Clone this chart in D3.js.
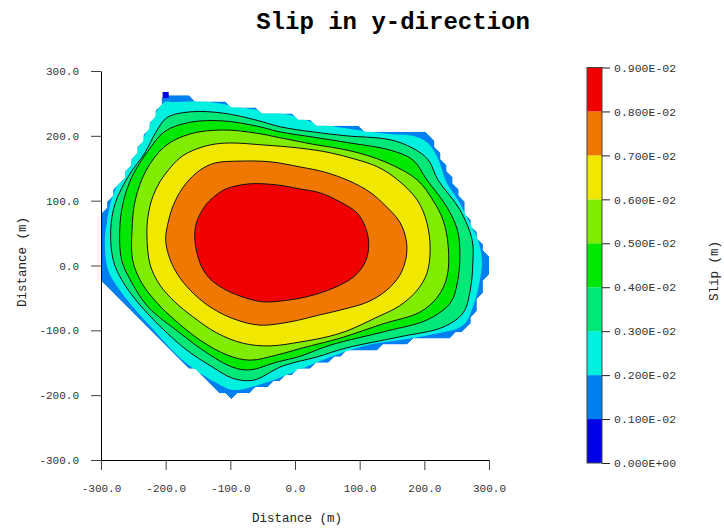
<!DOCTYPE html>
<html>
<head>
<meta charset="utf-8">
<script src="https://cdn.jsdelivr.net/npm/d3@7/dist/d3.min.js"></script>
<style>
body{margin:0;background:#fff;}
text{font-family:"Liberation Mono","Courier New",monospace;}
</style>
</head>
<body>
<div id="chart"></div>
<script>
var w = 724, h = 531;

var xTicks = [-300,-200,-100,0,100,200,300];
var yTicks = [-300,-200,-100,0,100,200,300];

var levels = [0,0.001,0.002,0.003,0.004,0.005,0.006,0.007,0.008,0.009];
var levelLabels = ["0.000E+00","0.100E-02","0.200E-02","0.300E-02","0.400E-02",
	"0.500E-02","0.600E-02","0.700E-02","0.800E-02","0.900E-02"];
var levelColors = ["#0000e6","#0080f0","#00f0e0","#00e878","#00e800",
	"#80ec00","#f0e800","#f07800","#f00000"];

// contour outlines, in metres (x, y), outermost first
var edge01 = [[-298,-30],[-298,83],[-289,96],[-280,113],[-268,132],[-255,155],[-240,184],[-224,215],[-213,240],[-203,261],
	[-190,261],[-155,257],[-119,251],[-85,244],[-51,238],[-8,231],[28,221],[70,214],[147,207],[204,206],[213,189],
	[235,147],[251,116],[266,81],[281,50],[298,12],[298,-10],[291,-25],[281,-64],[271,-89],[255,-106],[209,-112],
	[162,-120],[127,-127],[85,-133],[50,-146],[3,-164],[-54,-189],[-85,-198],[-101,-204],[-113,-197],[-124,-186],
	[-173,-149],[-224,-98],[-243,-78],[-263,-61],[-283,-41]];
var c02 = [[-294,39],[-289,-7],[-268,-42],[-240,-76],[-227,-90],[-175,-145],[-122,-181],[-96,-192],[-59,-185],[-8,-167],
	[50,-143],[111,-123],[162,-115],[213,-106],[260,-92],[275,-64],[286,-22],[289,8],[283,39],[268,70],[252,101],
	[235,127],[220,167],[204,190],[182,200],[147,203],[70,213],[28,221],[-8,232],[-51,239],[-90,245],[-139,253],
	[-189,252],[-201,252],[-217,233],[-230,205],[-246,175],[-261,147],[-276,121],[-285,98],[-291,66]];
var c03 = [[-285,55],[-281,8],[-268,-22],[-237,-64],[-173,-126],[-127,-157],[-96,-174],[-65,-177],[-19,-155],[34,-141],
	[80,-127],[162,-110],[229,-95],[260,-73],[271,-38],[275,4],[274,39],[255,86],[221,132],[206,163],[182,181],
	[147,194],[80,200],[28,206],[-23,214],[-59,224],[-111,235],[-162,237],[-198,228],[-216,204],[-232,174],
	[-258,137],[-278,96]];
var c04 = [[-271,55],[-268,8],[-252,-27],[-227,-64],[-178,-104],[-136,-135],[-96,-157],[-70,-161],[-28,-149],[8,-140],
	[54,-123],[142,-101],[204,-84],[240,-58],[251,-27],[255,19],[251,55],[235,90],[204,132],[182,163],[147,178],
	[85,189],[28,198],[-23,206],[-59,215],[-111,223],[-162,221],[-201,207],[-227,177],[-252,137],[-266,96]];
var c05 = [[-252,55],[-247,101],[-230,147],[-201,184],[-162,203],[-111,209],[-59,204],[-23,197],[28,187],[85,177],
	[139,160],[189,132],[213,101],[229,70],[237,29],[235,-18],[220,-49],[193,-72],[136,-90],[70,-112],[12,-127],
	[-28,-138],[-70,-146],[-105,-138],[-147,-115],[-186,-84],[-213,-58],[-237,-27],[-251,8]];
var c06 = [[-229,47],[-227,78],[-220,106],[-209,129],[-196,147],[-178,166],[-159,177],[-131,186],[-101,189],[-50,186],
	[8,181],[54,174],[93,164],[128,152],[159,132],[189,101],[204,66],[209,24],[204,-12],[189,-38],[162,-62],
	[124,-81],[85,-99],[54,-109],[8,-118],[-39,-124],[-80,-120],[-121,-104],[-158,-79],[-186,-56],[-209,-30],[-224,1]];
var c07 = [[-200,39],[-196,67],[-186,98],[-169,126],[-147,147],[-124,158],[-85,161],[-39,160],[8,152],[46,144],
	[85,130],[116,113],[139,93],[162,67],[172,39],[172,13],[162,-15],[142,-38],[113,-56],[77,-67],[39,-76],
	[-8,-87],[-54,-92],[-93,-83],[-128,-66],[-155,-45],[-178,-19],[-193,9]];
var c08 = [[-155,42],[-152,67],[-139,92],[-124,107],[-107,118],[-70,126],[-26,124],[8,118],[39,112],[70,98],
	[96,81],[110,56],[114,29],[108,4],[90,-18],[59,-35],[23,-47],[-8,-53],[-50,-56],[-85,-47],[-110,-36],
	[-133,-19],[-147,4]];
// lone cell below 0.1E-02 at the top left corner
var lowCells = [[-200,263]];

var bands = [
	{poly: c02, color: levelColors[2], line: false},
	{poly: c03, color: levelColors[3], line: true},
	{poly: c04, color: levelColors[4], line: true},
	{poly: c05, color: levelColors[5], line: true},
	{poly: c06, color: levelColors[6], line: true},
	{poly: c07, color: levelColors[7], line: true},
	{poly: c08, color: levelColors[8], line: true}
];

var svg = d3.select("#chart")
	.append("svg")
	.attr("width", w)
	.attr("height", h);

var x = d3.scaleLinear().domain([-300,300]).range([101,489]);
var y = d3.scaleLinear().domain([-300,300]).range([460,71]);

var smooth = d3.line()
	.x(function(d){ return x(d[0]); })
	.y(function(d){ return y(d[1]); })
	.curve(d3.curveCatmullRomClosed.alpha(0.5));

// the fault is made of square elements, so its rim is a staircase:
// mark the grid cells whose centre lies inside the outline
var nCell = 64, cell = 600/nCell;
var mask = [];
for (var j = 0; j < nCell; j++){
	for (var i = 0; i < nCell; i++){
		mask.push(d3.polygonContains(edge01, [-300+(i+0.5)*cell, -300+(j+0.5)*cell]) ? 1 : 0);
	}
}
var rim = d3.contours().size([nCell,nCell]).smooth(false).thresholds([0.5])(mask)[0];
var gridPath = d3.geoPath(d3.geoTransform({
	point: function(gx, gy){ this.stream.point(x(-300+gx*cell), y(-300+gy*cell)); }
}));

svg.append("defs")
	.append("clipPath")
	.attr("id", "faultclip")
	.append("path")
	.attr("d", gridPath(rim));

var plot = svg.append("g")
	.attr("clip-path", "url(#faultclip)");

plot.append("path")
	.attr("d", gridPath(rim))
	.attr("fill", levelColors[1]);

plot.selectAll(".band")
	.data(bands)
	.enter()
	.append("path")
	.attr("class","band")
	.attr("d", function(d){ return smooth(d.poly); })
	.attr("fill", function(d){ return d.color; });

plot.selectAll(".cline")
	.data(bands.filter(function(d){ return d.line; }))
	.enter()
	.append("path")
	.attr("class","cline")
	.attr("d", function(d){ return smooth(d.poly); })
	.attr("fill", "none")
	.attr("stroke", "#111")
	.attr("stroke-width", 1);

svg.selectAll(".lowcell")
	.data(lowCells)
	.enter()
	.append("rect")
	.attr("class","lowcell")
	.attr("x", function(d){ return x(d[0] - cell/2); })
	.attr("y", function(d){ return y(d[1] + cell/2); })
	.attr("width", x(cell) - x(0))
	.attr("height", y(0) - y(cell))
	.attr("fill", levelColors[0]);

// axes
var fmt = function(d){ return d.toFixed(1); };

var xAxis = svg.append("g")
	.attr("transform", "translate(0,460)")
	.call(d3.axisBottom(x).tickValues(xTicks).tickFormat(fmt).tickSize(10).tickSizeOuter(0).tickPadding(14));
var yAxis = svg.append("g")
	.attr("transform", "translate(101,0)")
	.call(d3.axisLeft(y).tickValues(yTicks).tickFormat(fmt).tickSize(10).tickSizeOuter(0).tickPadding(12));

svg.selectAll(".domain").attr("stroke", "#000");
svg.selectAll(".tick line").attr("stroke", "#444");
svg.selectAll(".tick text")
	.attr("fill", "#333")
	.style("font-size", "11px")
	.style("font-family", "'Liberation Mono', monospace");

svg.append("text")
	.attr("x", 297)
	.attr("y", 522)
	.attr("text-anchor", "middle")
	.attr("fill", "#222")
	.style("font-size", "12.5px")
	.text("Distance (m)");

svg.append("text")
	.attr("transform", "translate(26,262) rotate(-90)")
	.attr("text-anchor", "middle")
	.attr("fill", "#222")
	.style("font-size", "12.5px")
	.text("Distance (m)");

svg.append("text")
	.attr("x", 393)
	.attr("y", 29)
	.attr("text-anchor", "middle")
	.attr("fill", "#000")
	.style("font-size", "24px")
	.style("font-weight", "bold")
	.text("Slip in y-direction");

// colour bar
var cb = d3.scaleLinear().domain([0,0.009]).range([463,67.5]);
var cbar = svg.append("g");

cbar.selectAll(".cbband")
	.data(levelColors)
	.enter()
	.append("rect")
	.attr("class","cbband")
	.attr("x", 587)
	.attr("y", function(d,i){ return cb(levels[i+1]); })
	.attr("width", 15)
	.attr("height", function(d,i){ return cb(levels[i]) - cb(levels[i+1]); })
	.attr("fill", function(d){ return d; });

cbar.append("rect")
	.attr("x", 587)
	.attr("y", cb(0.009))
	.attr("width", 15)
	.attr("height", cb(0) - cb(0.009))
	.attr("fill", "none")
	.attr("stroke", "#444");

var cbAxis = svg.append("g")
	.attr("transform", "translate(602,0)")
	.call(d3.axisRight(cb).tickValues(levels)
		.tickFormat(function(d){ return levelLabels[levels.indexOf(d)]; })
		.tickSize(8).tickPadding(4));
cbAxis.select(".domain").remove();
cbAxis.selectAll(".tick line").attr("stroke", "#222");
cbAxis.selectAll(".tick text")
	.attr("fill", "#333")
	.style("font-size", "11.5px")
	.style("font-family", "'Liberation Mono', monospace");

svg.append("text")
	.attr("transform", "translate(718,271) rotate(-90)")
	.attr("text-anchor", "middle")
	.attr("fill", "#222")
	.style("font-size", "12.5px")
	.text("Slip (m)");
</script>
</body>
</html>
